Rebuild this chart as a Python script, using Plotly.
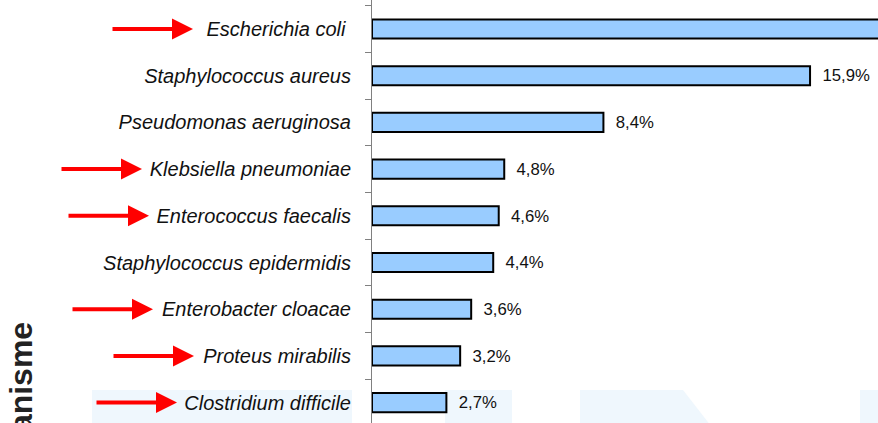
import plotly.graph_objects as go

# ---- data ----
organisms = [
    "Escherichia coli ",
    "Staphylococcus aureus",
    "Pseudomonas aeruginosa",
    "Klebsiella pneumoniae",
    "Enterococcus faecalis",
    "Staphylococcus epidermidis",
    "Enterobacter cloacae",
    "Proteus mirabilis",
    "Clostridium difficile",
]
percent = [26.0, 15.9, 8.4, 4.8, 4.6, 4.4, 3.6, 3.2, 2.7]
flagged = [True, False, False, True, True, False, True, True, True]
axis_title = "Organisme"

# ---- layout constants (screen pixels) ----
W, H = 878, 423
OFF = 0
AXIS_X = 372       # screen x of the y axis line
ML = AXIS_X - OFF
PW = W - ML
PX_PER_PCT = 27.55
PX_PER_CAT = 46.7
FIRST_CAT_Y = 29   # screen y of first category centre
arrow_tip_px = {0: 193, 3: 142, 4: 149, 6: 153, 7: 194, 8: 177}
ARROW_LEN = 82

x_max = PW / PX_PER_PCT
r_top = -(FIRST_CAT_Y - OFF) / PX_PER_CAT
r_bot = r_top + H / PX_PER_CAT


def px_x(px):
    return (px - OFF - ML) / PW


def px_y(py):
    return 1 - (py - OFF) / H


# value labels in French format; the label of a bar running past the cropped edge is not visible
labels = [("%.1f%%" % v).replace(".", ",") if v < x_max * 0.95 else "" for v in percent]

NARROW = "Liberation Sans Narrow, Arial Narrow, Liberation Sans, Arial"

fig = go.Figure()
fig.add_trace(go.Bar(
    x=percent,
    y=organisms,
    orientation="h",
    width=0.41,
    marker=dict(color="#99ccff", line=dict(color="#000000", width=2)),
    text=labels,
    texttemplate="\u00a0\u00a0%{text}",
    textposition="outside",
    textfont=dict(family=NARROW, size=17.5, color="#111111"),
    cliponaxis=True,
    hoverinfo="skip",
))

# red arrows
for i, tip in arrow_tip_px.items():
    if flagged[i]:
        fig.add_annotation(
            x=px_x(tip), xref="paper", y=organisms[i], yref="y",
            ax=-ARROW_LEN, ay=0, text="", showarrow=True,
            arrowhead=2, arrowsize=1.05, arrowwidth=4, arrowcolor="#ff0000",
            standoff=0, startstandoff=0,
        )

# axis title (partly cropped, as in the reference)
fig.add_annotation(
    x=px_x(21), xref="paper", y=px_y(406), yref="paper",
    text=f"<b>{axis_title}</b>", textangle=-90, showarrow=False,
    font=dict(family="Liberation Sans, Arial", size=32, color="#222222"),
    xanchor="center", yanchor="middle",
)

# faint watermark blocks
wm = "#eff7fd"
for (x0, x1) in [(92, 352), (445, 512), (860, 890)]:
    fig.add_shape(type="rect", xref="paper", yref="paper",
                  x0=px_x(x0), x1=px_x(x1), y0=px_y(435), y1=px_y(390),
                  fillcolor=wm, line_width=0, layer="below")
fig.add_shape(type="path", xref="paper", yref="paper",
              path=f"M {px_x(580)} {px_y(390)} L {px_x(683)} {px_y(390)} L {px_x(718)} {px_y(435)} L {px_x(580)} {px_y(435)} Z",
              fillcolor=wm, line_width=0, layer="below")

fig.update_layout(
    width=W, height=H,
    margin=dict(l=ML, r=0, t=0, b=0, pad=0),
    paper_bgcolor="white", plot_bgcolor="rgba(0,0,0,0)",
    showlegend=False,
)
fig.update_xaxes(range=[0, x_max], visible=False, showgrid=False, zeroline=False)
fig.update_yaxes(
    autorange=False, range=[r_bot, r_top],
    showline=True, linecolor="#808080", linewidth=1,
    ticks="outside", ticklen=6, tickcolor="#808080", tickson="boundaries",
    tickfont=dict(family=NARROW, size=20, color="#111111", style="italic"),
    ticklabelstandoff=16,
    showgrid=False, zeroline=False, automargin=False,
)

fig.write_html(
    "out.html",
    config={"displayModeBar": False, "staticPlot": True},
    post_script="document.body.style.margin='0';document.body.style.overflow='hidden';",
)
